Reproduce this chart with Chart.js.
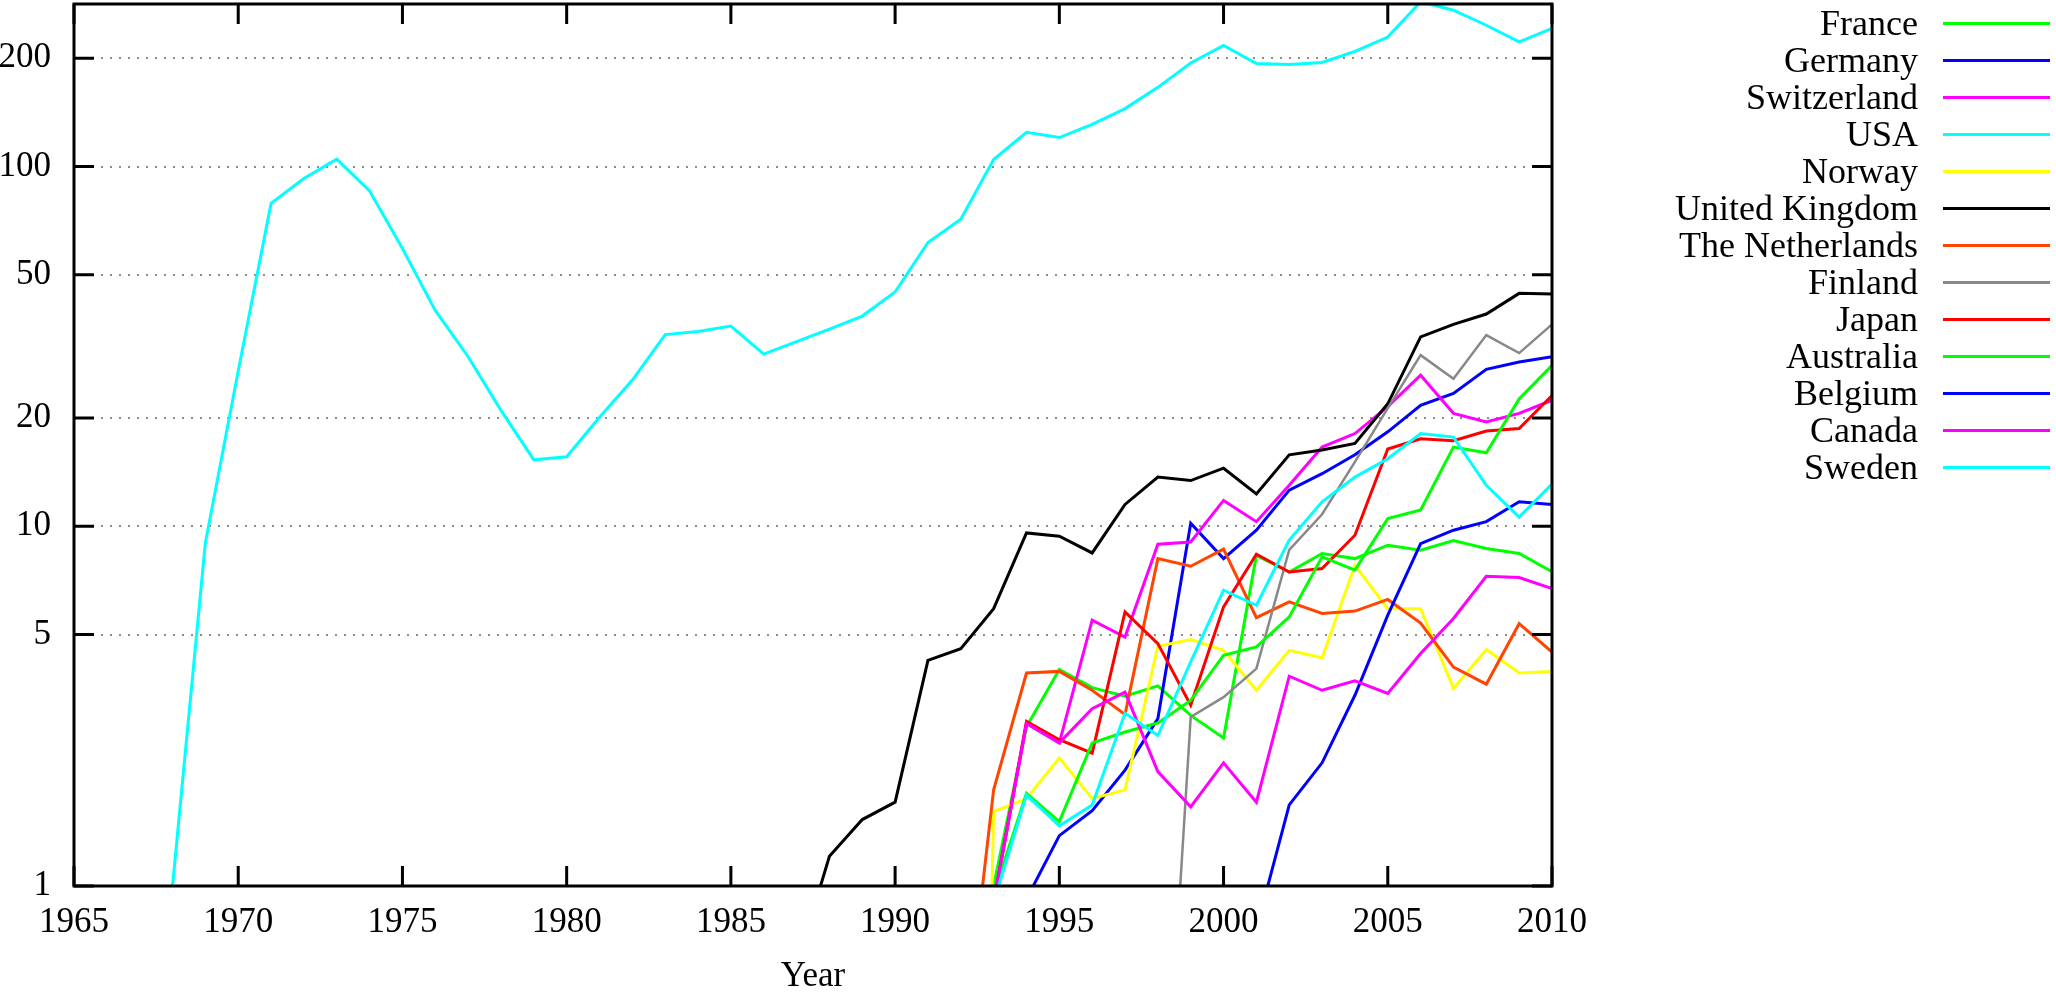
<!DOCTYPE html>
<html>
<head>
<meta charset="utf-8">
<script src="https://cdn.jsdelivr.net/npm/chart.js@4.4.1/dist/chart.umd.min.js"></script>
<style>
html,body{margin:0;padding:0;background:#fff;}
#wrap{width:2056px;height:994px;position:relative;}
canvas{display:block;}
</style>
</head>
<body>
<div id="wrap"><canvas id="c" width="2056" height="994"></canvas></div>
<script>
// ---------- data ----------
const usaYears = [1968,1969,1970,1971,1972,1973,1974,1975,1976,1977,1978,1979,1980,1981,1982,1983,1984,1985,1986,1987,1988,1989,1990,1991,1992,1993,1994,1995,1996,1997,1998,1999,2000,2001,2002,2003,2004,2005,2006,2007,2008,2009,2010];
const usa = [1.0,9.0,27,79,92.6,104.8,85.5,59.2,39.8,29.6,21.0,15.3,15.6,20.1,25.5,34.1,34.8,36.0,30.1,32.6,35.3,38.4,44.8,61.5,71.4,104.6,124.5,120.4,130.9,144.9,166,194,217,193.4,192,194.6,209,229,287,272,247,222,242];

const years = [1987,1988,1989,1990,1991,1992,1993,1994,1995,1996,1997,1998,1999,2000,2001,2002,2003,2004,2005,2006,2007,2008,2009,2010];
const france      = [null,null,null,null,null,0.1,1.0,2.77,4.0,3.56,3.37,3.60,2.98,2.58,8.3,7.46,8.4,8.13,8.86,8.58,9.12,8.67,8.4,7.48];
const germany     = [null,null,null,null,null,null,0.1,0.92,1.38,1.62,2.10,2.92,10.2,8.13,9.75,12.6,14.0,15.8,18.3,21.7,23.4,27.3,28.6,29.6];
const switzerland = [null,null,null,null,null,0.1,0.9,2.83,2.50,5.48,4.92,8.91,9.04,11.8,10.3,13.0,16.6,18.1,21.5,26.3,20.6,19.5,20.6,22.4];
const norway      = [null,null,null,null,null,0.0001,1.61,1.75,2.27,1.75,1.85,4.64,4.84,4.52,3.50,4.52,4.31,7.79,5.90,5.90,3.54,4.54,3.91,3.95];
const uk          = [0.6,1.21,1.53,1.71,4.24,4.57,5.90,9.58,9.38,8.43,11.5,13.7,13.4,14.5,12.3,15.8,16.3,17.0,21.9,33.6,36.4,38.9,44.4,44.2];
const netherlands = [null,null,null,null,null,0.3,1.85,3.91,3.95,3.5,3.0,8.13,7.74,8.64,5.57,6.16,5.72,5.81,6.26,5.38,4.06,3.64,5.36,4.47];
const finland     = [null,null,null,null,null,null,null,null,null,null,null,0.1,2.95,3.35,4.02,8.6,10.8,15.1,21.3,29.9,25.7,34.0,30.3,36.4];
const japan       = [null,null,null,null,null,0.1,0.9,2.87,2.55,2.34,5.78,4.72,3.18,5.97,8.36,7.46,7.63,9.44,16.4,17.5,17.3,18.4,18.7,23.1];
const australia   = [null,null,null,null,null,0.1,0.95,1.81,1.51,2.50,2.68,2.84,3.28,4.38,4.62,5.60,8.22,7.55,10.5,11.1,16.6,16.0,22.6,28.0];
const belgium     = [null,null,null,null,null,null,null,null,null,null,null,null,null,0.1,0.76,1.68,2.20,3.39,5.66,8.95,9.75,10.3,11.7,11.5];
const canada      = [null,null,null,null,null,0.1,0.9,2.83,2.50,3.11,3.46,2.08,1.66,2.20,1.71,3.83,3.50,3.72,3.43,4.43,5.54,7.26,7.20,6.71];
const sweden      = [null,null,null,null,null,0.1,0.9,1.79,1.47,1.68,3.02,2.62,4.2,6.64,6.03,9.15,11.7,13.7,15.4,18.1,17.7,13.0,10.6,13.1];

const yTickValues = [1,5,10,20,50,100,200];
const xTitle = 'Year';

// ---------- build ----------
function pts(xs, ys){ return xs.map((x,i)=>({x:x, y:ys[i]})); }
const series = [
  ['France', france, '#00ff00', years],
  ['Germany', germany, '#0000ff', years],
  ['Switzerland', switzerland, '#ff00ff', years],
  ['USA', usa, '#00ffff', usaYears],
  ['Norway', norway, '#ffff00', years],
  ['United Kingdom', uk, '#000000', years],
  ['The Netherlands', netherlands, '#ff4500', years],
  ['Finland', finland, '#888888', years],
  ['Japan', japan, '#ff0000', years],
  ['Australia', australia, '#00ff00', years],
  ['Belgium', belgium, '#0000ff', years],
  ['Canada', canada, '#ff00ff', years],
  ['Sweden', sweden, '#00ffff', years]
];
const n = series.length;
const datasets = series.map((s,i)=>({
  label: s[0],
  data: pts(s[3], s[1]),
  borderColor: s[2],
  backgroundColor: s[2],
  borderWidth: s[0]==='Finland' ? 2.5 : 3,
  pointRadius: 0,
  tension: 0,
  spanGaps: false,
  fill: false,
  clip: 0,
  order: n - i
}));

const FONT = '"Liberation Serif", "Times New Roman", serif';
Chart.defaults.font.family = FONT;
Chart.defaults.font.size = 35;
Chart.defaults.color = '#000';

const TL = 20;
const frame = {
  id: 'gnuFrame',
  beforeDatasetsDraw(chart){
    const {ctx, chartArea:a, scales:{y}} = chart;
    ctx.save();
    ctx.strokeStyle = '#8c8c8c';
    ctx.lineWidth = 2;
    ctx.setLineDash([2,7]);
    y.ticks.forEach(t=>{
      if (t.value <= y.min) return;
      const py = Math.round(y.getPixelForValue(t.value));
      ctx.beginPath(); ctx.moveTo(a.left, py); ctx.lineTo(a.right, py); ctx.stroke();
    });
    ctx.restore();
  },
  afterDatasetsDraw(chart){
    const {ctx, chartArea:a, scales:{x,y}} = chart;
    ctx.save();
    ctx.setLineDash([]);
    ctx.strokeStyle = '#000';
    ctx.lineWidth = 3;
    ctx.lineCap = 'butt';
    ctx.strokeRect(a.left, a.top, a.right-a.left, a.bottom-a.top);
    ctx.beginPath();
    x.ticks.forEach(t=>{
      const px = x.getPixelForValue(t.value);
      ctx.moveTo(px, a.bottom); ctx.lineTo(px, a.bottom-TL);
      ctx.moveTo(px, a.top); ctx.lineTo(px, a.top+TL);
    });
    y.ticks.forEach(t=>{
      const py = y.getPixelForValue(t.value);
      ctx.moveTo(a.left, py); ctx.lineTo(a.left+TL, py);
      ctx.moveTo(a.right, py); ctx.lineTo(a.right-TL, py);
    });
    ctx.stroke();
    ctx.restore();
  },
  afterDraw(chart){
    const ctx = chart.ctx;
    ctx.save();
    ctx.font = '36px ' + FONT;
    ctx.fillStyle = '#000';
    ctx.textAlign = 'right';
    ctx.textBaseline = 'alphabetic';
    chart.data.datasets.forEach((d,i)=>{
      const cy = 23.3 + i*36.97;
      ctx.fillText(d.label, 1918, cy + 11.8);
      ctx.strokeStyle = d.borderColor;
      ctx.lineWidth = 3;
      ctx.beginPath(); ctx.moveTo(1943, Math.round(cy)+0.5); ctx.lineTo(2050, Math.round(cy)+0.5); ctx.stroke();
    });
    ctx.restore();
  }
};

new Chart(document.getElementById('c'), {
  type: 'line',
  data: { datasets },
  options: {
    responsive: false,
    animation: false,
    devicePixelRatio: 1,
    layout: { padding: { left: 0, right: 504, top: 4, bottom: 0 } },
    plugins: { legend: { display: false }, tooltip: { enabled: false } },
    scales: {
      x: {
        type: 'linear', min: 1965, max: 2010,
        grid: { display: false, drawTicks: false },
        border: { display: false },
        ticks: { stepSize: 5, padding: 16, maxRotation: 0, autoSkip: false, callback: v => String(v) },
        title: { display: true, text: xTitle, font: { size: 35, lineHeight: 1 }, padding: { top: 0, bottom: 0 } },
        afterFit: s => { s.height = 108; s.paddingLeft = 0; s.paddingRight = 0; }
      },
      y: {
        type: 'logarithmic', min: 1, max: 283,
        grid: { display: false, drawTicks: false },
        border: { display: false },
        ticks: { padding: 23, autoSkip: false, callback: v => String(v) },
        afterBuildTicks: s => { s.ticks = yTickValues.map(v => ({ value: v })); },
        afterFit: s => { s.width = 74; s.paddingTop = 0; s.paddingBottom = 0; }
      }
    }
  },
  plugins: [frame]
});
</script>
</body>
</html>
